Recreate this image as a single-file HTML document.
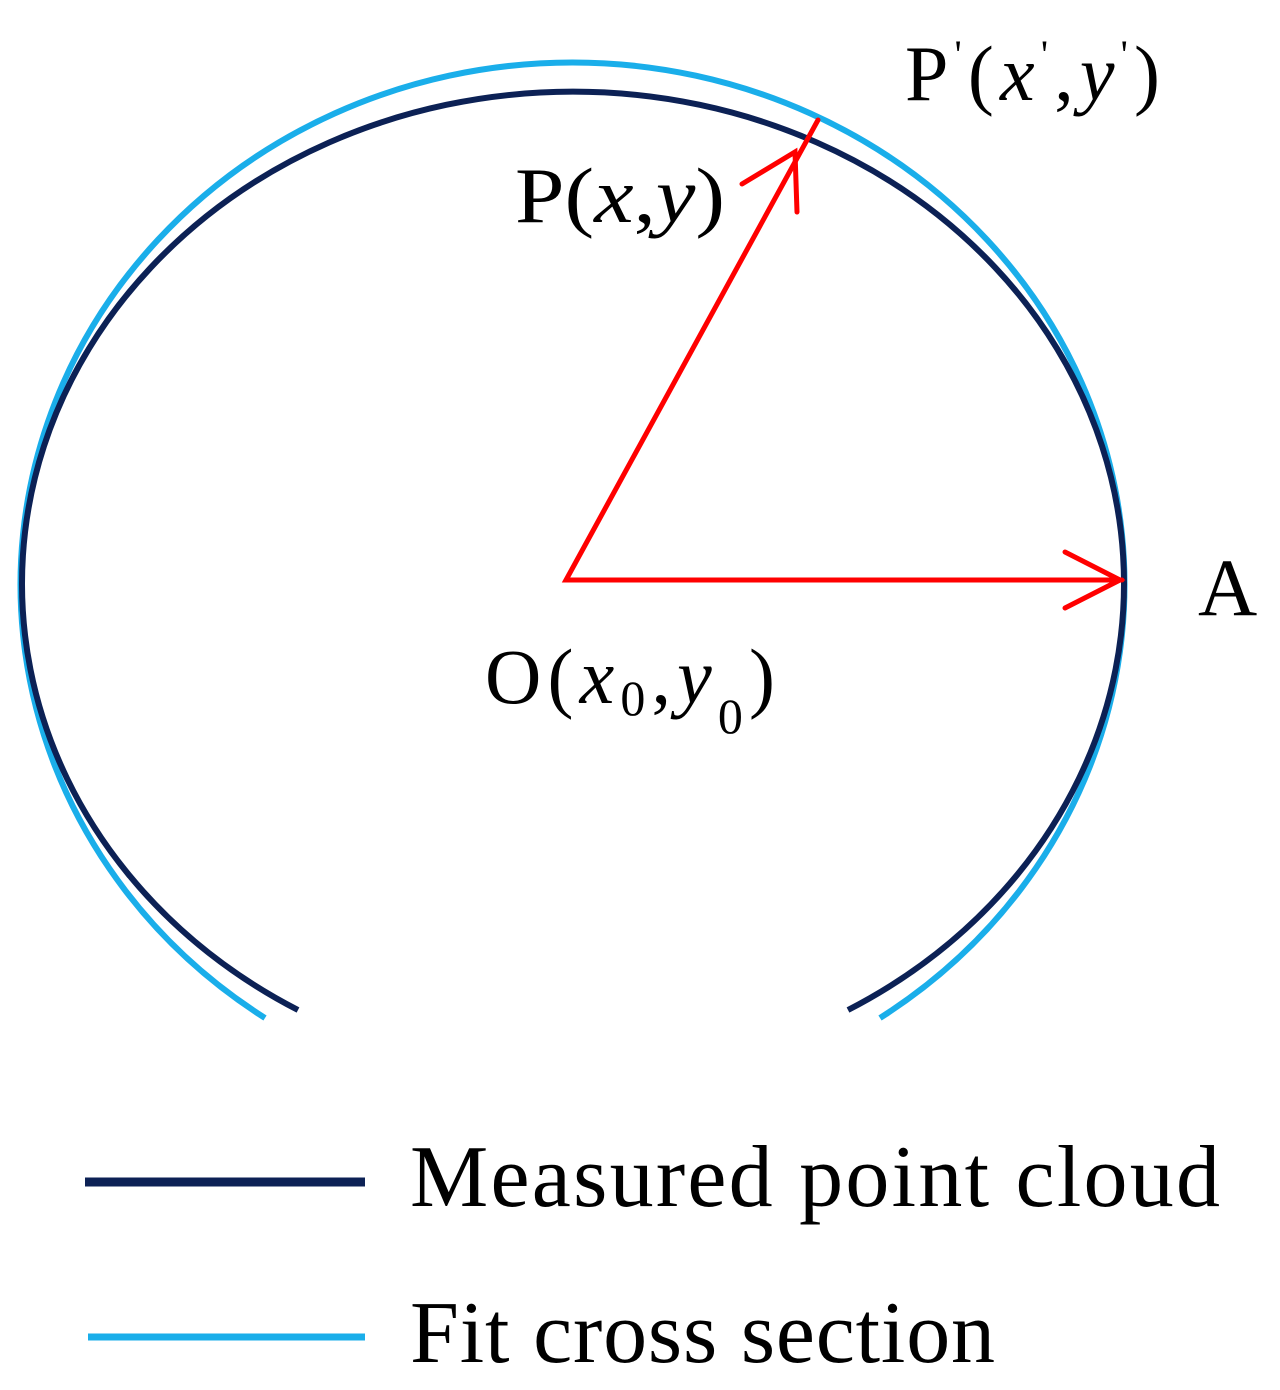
<!DOCTYPE html>
<html><head><style>
html,body{margin:0;padding:0;background:#fff;}
svg{display:block;}
text{font-family:"Liberation Serif",serif;fill:#000;}
</style></head><body>
<svg width="1280" height="1390" viewBox="0 0 1280 1390" xmlns="http://www.w3.org/2000/svg">
<path d="M265,1018 A552,522 0 1 1 880,1018" fill="none" stroke="#1aaeea" stroke-width="6"/>
<path d="M298,1010 A551,492 0 1 1 848,1010" fill="none" stroke="#0c2155" stroke-width="6"/>
<g stroke="#ff0000" stroke-width="5" fill="none" stroke-linecap="round">
<polyline points="1122,580 566,580 818,120"/>
<polyline points="1065,552 1120,580 1065,608"/>
<polyline points="742,184 795,152 797,212"/>
</g>
<text x="515" y="222" font-size="78" textLength="210" lengthAdjust="spacingAndGlyphs">P(<tspan font-style="italic">x</tspan>,<tspan font-style="italic">y</tspan>)</text>
<text x="905" y="100" font-size="78" textLength="255" lengthAdjust="spacing">P<tspan font-size="40" dy="-32">'</tspan><tspan dy="32">(</tspan><tspan font-style="italic">x</tspan><tspan font-size="40" dy="-32">'</tspan><tspan dy="32">,</tspan><tspan font-style="italic">y</tspan><tspan font-size="40" dy="-32">'</tspan><tspan dy="32">)</tspan></text>
<text x="1198" y="615" font-size="82">A</text>
<text x="485" y="703" font-size="78" textLength="290" lengthAdjust="spacing">O(<tspan font-style="italic">x</tspan><tspan font-size="50" dy="12">0</tspan><tspan dy="-12">,</tspan><tspan font-style="italic">y</tspan><tspan font-size="50" dy="30">0</tspan><tspan dy="-30">)</tspan></text>
<line x1="85" y1="1182" x2="365" y2="1182" stroke="#0c2155" stroke-width="9"/>
<line x1="88" y1="1337" x2="365" y2="1337" stroke="#1aaeea" stroke-width="7"/>
<text x="410" y="1206" font-size="88" textLength="810" lengthAdjust="spacing">Measured point cloud</text>
<text x="410" y="1362" font-size="88" textLength="585" lengthAdjust="spacing">Fit cross section</text>
</svg>
</body></html>
